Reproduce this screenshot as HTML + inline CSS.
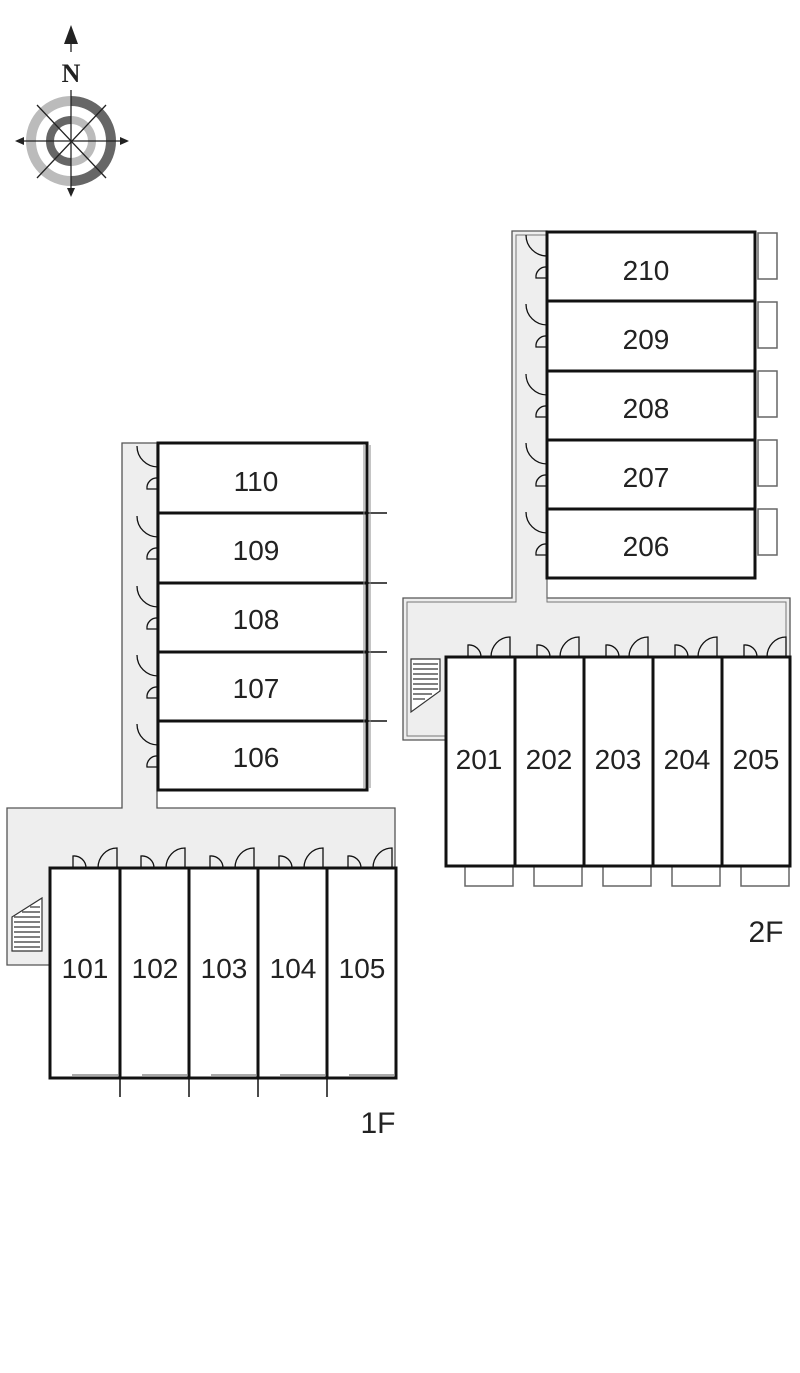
<!DOCTYPE html>
<html><head><meta charset="utf-8"><style>
html,body{margin:0;padding:0;background:#fff;}
svg{display:block;}
text{font-family:"Liberation Sans",sans-serif;}
</style></head><body>
<svg width="800" height="1373" viewBox="0 0 800 1373" xmlns="http://www.w3.org/2000/svg">
<!-- compass -->
<g>
<path d="M71,101 A40,40 0 0 0 71,181" fill="none" stroke="#bbb" stroke-width="10"/>
<path d="M71,101 A40,40 0 0 1 71,181" fill="none" stroke="#666" stroke-width="10"/>
<path d="M71,120 A21,21 0 0 0 71,162" fill="none" stroke="#666" stroke-width="8"/>
<path d="M71,120 A21,21 0 0 1 71,162" fill="none" stroke="#bbb" stroke-width="8"/>
<g stroke="#222" stroke-width="1.3">
<line x1="71" y1="90" x2="71" y2="193"/>
<line x1="18" y1="141" x2="126" y2="141"/>
<line x1="37" y1="105" x2="106" y2="178"/>
<line x1="106" y1="105" x2="37" y2="178"/>
<line x1="71" y1="38" x2="71" y2="52"/>
</g>
<polygon points="71,25 64,44 78,44" fill="#222"/>
<polygon points="15,141 24,137 24,145" fill="#222"/>
<polygon points="129,141 120,137 120,145" fill="#222"/>
<polygon points="71,197 67,188 75,188" fill="#222"/>
<text x="71" y="82" text-anchor="middle" font-weight="bold" font-size="26" fill="#222" style="font-family:'Liberation Serif',serif">N</text>
</g>

<!-- 1F corridor -->
<polygon points="122,443 157,443 157,808 395,808 395,868 50,868 50,965 7,965 7,808 122,808" fill="#eee" stroke="#555" stroke-width="1.3"/>
<g stroke="#333" stroke-width="1.2" fill="#fff">
<polygon points="12,917 42,898 42,951 12,951"/>
<g fill="none"><line x1="14" y1="922" x2="40" y2="922"/><line x1="14" y1="927" x2="40" y2="927"/><line x1="14" y1="932" x2="40" y2="932"/><line x1="14" y1="937" x2="40" y2="937"/><line x1="14" y1="942" x2="40" y2="942"/><line x1="14" y1="947" x2="40" y2="947"/><line x1="22" y1="912" x2="40" y2="912"/><line x1="30" y1="907" x2="40" y2="907"/><line x1="14" y1="917" x2="40" y2="917"/></g>
</g>
<g fill="#fff" stroke="#111" stroke-width="3">
<rect x="158" y="443" width="209" height="70"/>
<rect x="158" y="513" width="209" height="70"/>
<rect x="158" y="583" width="209" height="69"/>
<rect x="158" y="652" width="209" height="69"/>
<rect x="158" y="721" width="209" height="69"/>
</g>
<g stroke="#111" stroke-width="1.5">
<line x1="367" y1="513" x2="387" y2="513"/><line x1="367" y1="583" x2="387" y2="583"/><line x1="367" y1="652" x2="387" y2="652"/><line x1="367" y1="721" x2="387" y2="721"/>
</g>
<g stroke="#888" stroke-width="1"><line x1="364" y1="445" x2="364" y2="788"/><line x1="370" y1="445" x2="370" y2="788"/></g>
<g fill="none" stroke="#111" stroke-width="1.3">
<g transform="translate(158,443)"><path d="M-21,3 A21,21 0 0 0 0,24"/><path d="M0,35 A10,10 0 0 0 -11,46 H0"/></g>
<g transform="translate(158,513)"><path d="M-21,3 A21,21 0 0 0 0,24"/><path d="M0,35 A10,10 0 0 0 -11,46 H0"/></g>
<g transform="translate(158,583)"><path d="M-21,3 A21,21 0 0 0 0,24"/><path d="M0,35 A10,10 0 0 0 -11,46 H0"/></g>
<g transform="translate(158,652)"><path d="M-21,3 A21,21 0 0 0 0,24"/><path d="M0,35 A10,10 0 0 0 -11,46 H0"/></g>
<g transform="translate(158,721)"><path d="M-21,3 A21,21 0 0 0 0,24"/><path d="M0,35 A10,10 0 0 0 -11,46 H0"/></g>
</g>
<g font-size="28" fill="#222" text-anchor="middle">
<text x="256" y="491">110</text><text x="256" y="560">109</text><text x="256" y="629">108</text><text x="256" y="698">107</text><text x="256" y="767">106</text>
</g>
<g fill="#fff" stroke="#111" stroke-width="3">
<rect x="50" y="868" width="70" height="210"/><rect x="120" y="868" width="69" height="210"/><rect x="189" y="868" width="69" height="210"/><rect x="258" y="868" width="69" height="210"/><rect x="327" y="868" width="69" height="210"/>
</g>
<g stroke="#111" stroke-width="1.5"><line x1="120" y1="1078" x2="120" y2="1097"/><line x1="189" y1="1078" x2="189" y2="1097"/><line x1="258" y1="1078" x2="258" y2="1097"/><line x1="327" y1="1078" x2="327" y2="1097"/></g>
<g stroke="#777" stroke-width="1.2"><line x1="72" y1="1075" x2="118" y2="1075"/><line x1="142" y1="1075" x2="187" y2="1075"/><line x1="211" y1="1075" x2="256" y2="1075"/><line x1="280" y1="1075" x2="325" y2="1075"/><line x1="349" y1="1075" x2="394" y2="1075"/></g>
<g fill="none" stroke="#111" stroke-width="1.3">
<g transform="translate(50,868)"><path d="M23,0 V-12 A12,12 0 0 1 36,0"/><path d="M48,0 A19,20 0 0 1 67,-20 V0"/></g>
<g transform="translate(120,868)"><path d="M21,0 V-12 A12,12 0 0 1 34,0"/><path d="M46,0 A19,20 0 0 1 65,-20 V0"/></g>
<g transform="translate(189,868)"><path d="M21,0 V-12 A12,12 0 0 1 34,0"/><path d="M46,0 A19,20 0 0 1 65,-20 V0"/></g>
<g transform="translate(258,868)"><path d="M21,0 V-12 A12,12 0 0 1 34,0"/><path d="M46,0 A19,20 0 0 1 65,-20 V0"/></g>
<g transform="translate(327,868)"><path d="M21,0 V-12 A12,12 0 0 1 34,0"/><path d="M46,0 A19,20 0 0 1 65,-20 V0"/></g>
</g>
<g font-size="28" fill="#222" text-anchor="middle">
<text x="85" y="978">101</text><text x="155" y="978">102</text><text x="224" y="978">103</text><text x="293" y="978">104</text><text x="362" y="978">105</text>
</g>
<text x="378" y="1133" font-size="30" fill="#222" text-anchor="middle">1F</text>

<!-- 2F corridor -->
<polygon points="512,231 547,231 547,598 790,598 790,657 446,657 446,740 403,740 403,598 512,598" fill="#eee" stroke="#555" stroke-width="1.3"/>
<polygon points="516,235 547,235 547,602 786,602 786,657 446,657 446,736 407,736 407,602 516,602" fill="none" stroke="#777" stroke-width="1"/>
<g stroke="#333" stroke-width="1.2" fill="#fff">
<polygon points="411,659 440,659 440,691 411,712"/>
<g fill="none"><line x1="413" y1="664" x2="438" y2="664"/><line x1="413" y1="669" x2="438" y2="669"/><line x1="413" y1="674" x2="438" y2="674"/><line x1="413" y1="679" x2="438" y2="679"/><line x1="413" y1="684" x2="438" y2="684"/><line x1="413" y1="689" x2="438" y2="689"/><line x1="413" y1="694" x2="432" y2="694"/><line x1="413" y1="699" x2="425" y2="699"/></g>
</g>
<g fill="none" stroke="#666" stroke-width="1.5">
<rect x="758" y="233" width="19" height="46"/><rect x="758" y="302" width="19" height="46"/><rect x="758" y="371" width="19" height="46"/><rect x="758" y="440" width="19" height="46"/><rect x="758" y="509" width="19" height="46"/>
</g>
<g fill="#fff" stroke="#111" stroke-width="3">
<rect x="547" y="232" width="208" height="69"/><rect x="547" y="301" width="208" height="70"/><rect x="547" y="371" width="208" height="69"/><rect x="547" y="440" width="208" height="69"/><rect x="547" y="509" width="208" height="69"/>
</g>
<g fill="none" stroke="#111" stroke-width="1.3">
<g transform="translate(547,232)"><path d="M-21,3 A21,21 0 0 0 0,24"/><path d="M0,35 A10,10 0 0 0 -11,46 H0"/></g>
<g transform="translate(547,301)"><path d="M-21,3 A21,21 0 0 0 0,24"/><path d="M0,35 A10,10 0 0 0 -11,46 H0"/></g>
<g transform="translate(547,371)"><path d="M-21,3 A21,21 0 0 0 0,24"/><path d="M0,35 A10,10 0 0 0 -11,46 H0"/></g>
<g transform="translate(547,440)"><path d="M-21,3 A21,21 0 0 0 0,24"/><path d="M0,35 A10,10 0 0 0 -11,46 H0"/></g>
<g transform="translate(547,509)"><path d="M-21,3 A21,21 0 0 0 0,24"/><path d="M0,35 A10,10 0 0 0 -11,46 H0"/></g>
</g>
<g font-size="28" fill="#222" text-anchor="middle">
<text x="646" y="280">210</text><text x="646" y="349">209</text><text x="646" y="418">208</text><text x="646" y="487">207</text><text x="646" y="556">206</text>
</g>
<g fill="none" stroke="#666" stroke-width="1.5">
<rect x="465" y="866" width="48" height="20"/><rect x="534" y="866" width="48" height="20"/><rect x="603" y="866" width="48" height="20"/><rect x="672" y="866" width="48" height="20"/><rect x="741" y="866" width="48" height="20"/>
</g>
<g fill="#fff" stroke="#111" stroke-width="3">
<rect x="446" y="657" width="69" height="209"/><rect x="515" y="657" width="69" height="209"/><rect x="584" y="657" width="69" height="209"/><rect x="653" y="657" width="69" height="209"/><rect x="722" y="657" width="68" height="209"/>
</g>
<g fill="none" stroke="#111" stroke-width="1.3">
<g transform="translate(446,657)"><path d="M22,0 V-12 A12,12 0 0 1 35,0"/><path d="M45,0 A19,20 0 0 1 64,-20 V0"/></g>
<g transform="translate(515,657)"><path d="M22,0 V-12 A12,12 0 0 1 35,0"/><path d="M45,0 A19,20 0 0 1 64,-20 V0"/></g>
<g transform="translate(584,657)"><path d="M22,0 V-12 A12,12 0 0 1 35,0"/><path d="M45,0 A19,20 0 0 1 64,-20 V0"/></g>
<g transform="translate(653,657)"><path d="M22,0 V-12 A12,12 0 0 1 35,0"/><path d="M45,0 A19,20 0 0 1 64,-20 V0"/></g>
<g transform="translate(722,657)"><path d="M22,0 V-12 A12,12 0 0 1 35,0"/><path d="M45,0 A19,20 0 0 1 64,-20 V0"/></g>
</g>
<g font-size="28" fill="#222" text-anchor="middle">
<text x="479" y="769">201</text><text x="549" y="769">202</text><text x="618" y="769">203</text><text x="687" y="769">204</text><text x="756" y="769">205</text>
</g>
<text x="766" y="942" font-size="30" fill="#222" text-anchor="middle">2F</text>
</svg>
</body></html>
